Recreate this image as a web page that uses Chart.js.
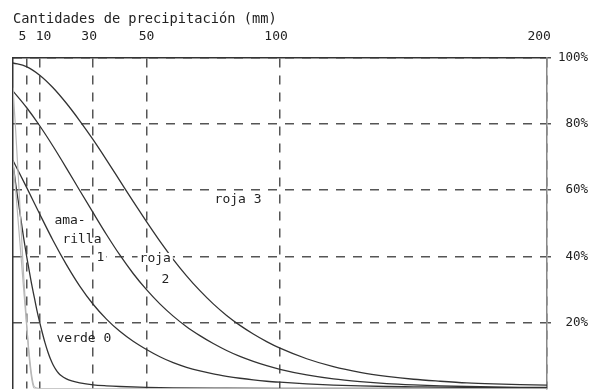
<!DOCTYPE html>
<html>
<head>
<meta charset="utf-8">
<script src="https://cdn.jsdelivr.net/npm/chart.js@4/dist/chart.umd.min.js"></script>
<style>
  html, body { margin: 0; padding: 0; background: #fff; overflow: hidden; }
  #wrap { width: 596px; height: 400px; }
</style>
</head>
<body>
<div id="wrap"><canvas id="c" width="596" height="400"></canvas></div>
<script>
// ---- data ----
const titleText = "Cantidades de precipitación (mm)";
const xTicks = [5, 10, 30, 50, 100, 200];
const xTickLabels = ["5 ", " 10", "30 ", "50", "100 ", "200  "];
const yTicks = [0, 20, 40, 60, 80, 100];
const yTickLabels = ["", "20%", "40%", "60%", "80%", "100%"];

const xMm = [0, 5, 10, 15, 20, 25, 30, 35, 40, 45, 50, 55, 60, 65, 70, 75, 80, 85, 90, 95, 100,
             110, 120, 130, 140, 150, 160, 170, 180, 190, 200];
const roja3 = [98.5, 97.4, 94.8, 91, 86.3, 81, 75.3, 69.2, 62.9, 56.6, 50.5, 44.6, 39.1, 34.1, 29.6, 25.6, 22.1, 19.1, 16.5, 14.2, 12.2,
               9.0, 6.6, 4.9, 3.7, 2.8, 2.2, 1.7, 1.4, 1.2, 1.0];
const roja2 = [90, 85.1, 79.5, 73.3, 66.7, 59.9, 53.2, 46.6, 40.4, 34.8, 29.9, 25.6, 21.9, 18.7, 16.0, 13.6, 11.5, 9.7, 8.2, 6.9, 5.8,
               4.1, 2.9, 2.1, 1.5, 1.1, 0.8, 0.6, 0.45, 0.35, 0.3];
const amarilla1 = [69, 61, 52.8, 44.8, 37.5, 31, 25.5, 21, 17.3, 14.3, 11.8, 9.6, 7.8, 6.4, 5.3, 4.4, 3.7, 3.1, 2.6, 2.2, 1.9,
                   1.4, 1.05, 0.8, 0.6, 0.5, 0.4, 0.33, 0.28, 0.24, 0.2];

const verdeMm = [0, 1, 2, 3, 4, 5, 6, 7, 8, 9, 10, 11, 12, 13, 14, 15, 16, 17, 18, 20, 22, 25, 30, 35, 40, 50, 60, 80, 100, 150, 200];
const verde0 = [68, 62, 56.5, 51, 45.5, 40.5, 36, 31.5, 27.5, 23.5, 20, 16.8, 13.8, 11.2, 9, 7.2, 5.8, 4.7, 3.9, 2.9, 2.3, 1.7, 1.1, 0.8, 0.6, 0.35, 0.2, 0.1, 0.05, 0, 0];

const faintMm = [0, 1, 2, 3, 4, 5, 6, 7, 8, 10, 200];
const faintA = [91, 78, 64, 49, 34, 21, 10, 3, 0, 0, 0];
const faintB = [69, 60, 50, 40, 30, 20, 11, 4, 0.5, 0, 0];

// curve labels: text, mm, percent, white background
const curveLabels = [
  ["roja 3", 75.5, 57.1, false],
  ["ama-", 15.5, 50.9, false],
  ["rilla", 18.5, 44.9, false],
  ["1", 31.3, 39.5, true],
  ["roja", 47.4, 39.2, true],
  ["2", 55.6, 33.0, false],
  ["verde 0", 16.3, 15.2, false]
];

const FONT = "'DejaVu Sans Mono', 'Liberation Mono', monospace";
const INK = '#222';
const GRID = '#555';

function pts(xs, arr) { return xs.map((x, i) => ({ x: x, y: arr[i] })); }
function ds(xs, arr, color, width) {
  return { data: pts(xs, arr), borderColor: color, borderWidth: width, pointRadius: 0,
           fill: false, cubicInterpolationMode: 'monotone' };
}

const labelPlugin = {
  id: 'curveLabels',
  afterDatasetsDraw(chart) {
    const ctx = chart.ctx, xs = chart.scales.x, ys = chart.scales.y;
    ctx.save();
    ctx.font = "13px " + FONT;
    ctx.textAlign = 'left';
    ctx.textBaseline = 'middle';
    curveLabels.forEach(([t, mx, py, bg]) => {
      const px = xs.getPixelForValue(mx), pyy = ys.getPixelForValue(py);
      if (bg) {
        const w = ctx.measureText(t).width;
        ctx.fillStyle = '#fff';
        ctx.fillRect(px - 2, pyy - 6, w + 4, 12);
      }
      ctx.fillStyle = INK;
      ctx.fillText(t, px, pyy);
    });
    ctx.restore();
  }
};

new Chart(document.getElementById('c'), {
  type: 'line',
  data: {
    datasets: [
      ds(faintMm, faintA, '#b8b8b8', 1.2),
      ds(faintMm, faintB, '#b8b8b8', 1.2),
      ds(xMm, roja3, '#333', 1.3),
      ds(xMm, roja2, '#333', 1.3),
      ds(xMm, amarilla1, '#333', 1.3),
      ds(verdeMm, verde0, '#333', 1.3)
    ]
  },
  options: {
    responsive: false,
    animation: false,
    devicePixelRatio: 1,
    layout: { padding: { left: 13, right: 8, top: 0, bottom: 6 } },
    plugins: { legend: { display: false }, tooltip: { enabled: false } },
    scales: {
      x: {
        type: 'linear', position: 'top', min: 0, max: 200,
        afterBuildTicks: s => { s.ticks = xTicks.map(v => ({ value: v })); },
        afterFit: s => { s.height = 58; },
        ticks: { autoSkip: false, maxRotation: 0, padding: 14, color: INK,
                 font: { family: FONT, size: 13 },
                 callback: (v, i) => xTickLabels[xTicks.indexOf(v)] },
        grid: { color: GRID, lineWidth: 1.5, drawTicks: false },
        border: { display: true, color: '#333', width: 1.5, dash: [9, 8] },
        title: { display: true, text: titleText, align: 'start', color: INK,
                 font: { family: FONT, size: 13.7 }, padding: { top: 11, bottom: 0 } }
      },
      y: {
        position: 'right', min: 0, max: 100,
        afterBuildTicks: s => { s.ticks = yTicks.map(v => ({ value: v })); },
        afterFit: s => { s.width = 41; },
        ticks: { crossAlign: 'far', padding: 4, color: INK,
                 font: { family: FONT, size: 12.5 },
                 callback: v => (v === 0 ? null : yTickLabels[yTicks.indexOf(v)]) },
        grid: { color: GRID, lineWidth: 1.5, drawTicks: true, tickLength: 4, tickColor: GRID },
        border: { display: true, color: '#888', width: 1.5, dash: [9, 8] }
      },
      y2: {
        position: 'left', min: 0, max: 100, display: true,
        afterFit: s => { s.width = 0; },
        ticks: { display: false },
        grid: { display: false },
        border: { display: true, color: '#333', width: 1.5 }
      }
    }
  },
  plugins: [labelPlugin]
});
</script>
</body>
</html>
